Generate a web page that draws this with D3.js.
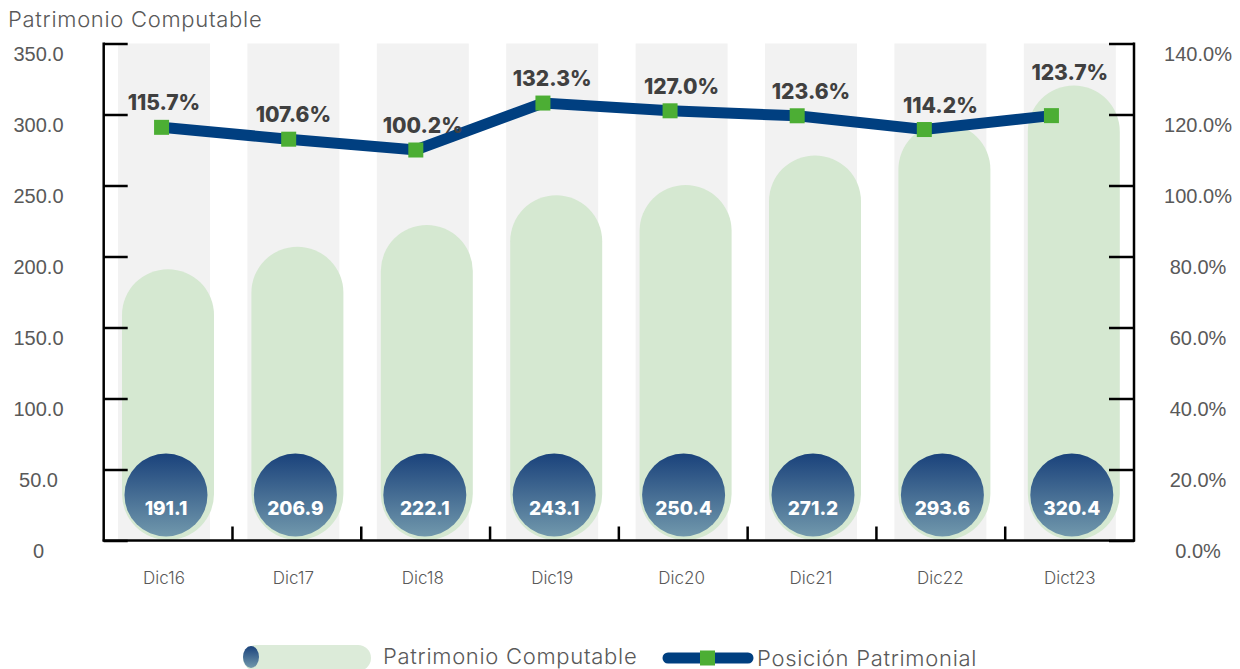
<!DOCTYPE html>
<html>
<head>
<meta charset="utf-8">
<script src="https://cdn.jsdelivr.net/npm/d3@7"></script>
<style>
  body { margin: 0; background: #fff; }
  svg { display: block; font-family: Inter, "Noto Sans", sans-serif; }
  .lbl { fill: #595959; font-weight: 300; }
  .val { fill: #404040; font-weight: 800; }
  .inner { fill: #fff; font-weight: 800; }
</style>
</head>
<body>
<div id="vis"></div>
<script>
// chart data
var categories = ["Dic16", "Dic17", "Dic18", "Dic19", "Dic20", "Dic21", "Dic22", "Dict23"];
var patrimonio = [191.1, 206.9, 222.1, 243.1, 250.4, 271.2, 293.6, 320.4];
var posicion = [115.7, 107.6, 100.2, 132.3, 127.0, 123.6, 114.2, 123.7];
var leftTicks = [0, 50, 100, 150, 200, 250, 300, 350];
var rightTicks = [0, 20, 40, 60, 80, 100, 120, 140];

var w = 1240, h = 669,
    plotTop = 43.5, plotBottom = 540.5,
    plotLeft = 103.7, plotRight = 1134;

var svg = d3.select("#vis").append("svg")
    .attr("width", w)
    .attr("height", h);

var defs = svg.append("defs");
var grad = defs.append("linearGradient")
    .attr("id", "ball")
    .attr("x1", 0).attr("y1", 0).attr("x2", 0).attr("y2", 1);
grad.append("stop").attr("offset", "0%").attr("stop-color", "#1a427b");
grad.append("stop").attr("offset", "100%").attr("stop-color", "#7198ac");

// scales
var x = d3.scaleBand().domain(categories).range([99.3, 1134.5])
    .paddingInner(0.289).paddingOuter(0.1445);
var xTick = d3.scaleBand().domain(categories).range([plotLeft, plotRight]);
var xLine = d3.scaleBand().domain(categories).range([98, 1115]);
var y = d3.scaleLinear().domain([0, 350]).range([plotBottom, plotTop]);
var yR = d3.scaleLinear().domain([0, 140]).range([plotBottom, plotTop]);
// the line sits on its own (hidden) secondary scale
var yLine = d3.scaleLinear().domain([100, 135]).range([150.3, 99.1]);

var bw = x.bandwidth();

// grey background columns
svg.selectAll(".bg")
    .data(categories)
    .enter().append("rect")
    .attr("class", "bg")
    .attr("x", function(d) { return x(d); })
    .attr("y", plotTop)
    .attr("width", bw)
    .attr("height", plotBottom - plotTop)
    .attr("fill", "#f2f2f2");

// pill bars
svg.selectAll(".pill")
    .data(patrimonio)
    .enter().append("rect")
    .attr("class", "pill")
    .attr("x", function(d, i) { return x(categories[i]) + 4; })
    .attr("y", function(d) { return y(d); })
    .attr("width", bw)
    .attr("height", function(d) { return 540 - y(d); })
    .attr("rx", bw / 2)
    .attr("fill", "#d5e8d1");

// balls with values
svg.selectAll(".ball")
    .data(patrimonio)
    .enter().append("circle")
    .attr("class", "ball")
    .attr("cx", function(d, i) { return x(categories[i]) + bw / 2 + 2; })
    .attr("cy", 495)
    .attr("r", 41.5)
    .attr("fill", "url(#ball)");

svg.selectAll(".inner")
    .data(patrimonio)
    .enter().append("text")
    .attr("class", "inner")
    .attr("x", function(d, i) { return x(categories[i]) + bw / 2 + 2; })
    .attr("y", 515)
    .attr("text-anchor", "middle")
    .style("font-size", "19px")
    .text(function(d) { return d.toFixed(1); });

// axes
var yAxis = d3.axisRight(y).tickValues(leftTicks).tickSize(24).tickFormat(function(d) { return d === 0 ? "0" : d.toFixed(1); });
var gl = svg.append("g").attr("transform", "translate(" + plotLeft + ",0)").call(yAxis);
gl.select(".domain").remove();
gl.selectAll("line").attr("stroke", "#000").attr("stroke-width", 2.5);
gl.selectAll("text")
    .attr("class", "lbl")
    .attr("x", 38.5 - plotLeft)
    .attr("dy", "0.35em")
    .attr("transform", "translate(0,10)")
    .attr("text-anchor", "middle")
    .style("font-size", "20px")
    .attr("font-family", null)
    .attr("fill", null);

var rAxis = d3.axisLeft(yR).tickValues(rightTicks).tickSize(25).tickFormat(function(d) { return d.toFixed(1) + "%"; });
var gr = svg.append("g").attr("transform", "translate(" + plotRight + ",0)").call(rAxis);
gr.select(".domain").remove();
gr.selectAll("line").attr("stroke", "#000").attr("stroke-width", 2.5);
gr.selectAll("text")
    .attr("class", "lbl")
    .attr("x", 1198 - plotRight)
    .attr("dy", "0.35em")
    .attr("transform", "translate(0,10)")
    .attr("text-anchor", "middle")
    .style("font-size", "20px")
    .attr("font-family", null)
    .attr("fill", null);

// axis lines
svg.append("line").attr("x1", plotLeft).attr("x2", plotLeft).attr("y1", plotTop - 1).attr("y2", plotBottom + 1)
    .attr("stroke", "#000").attr("stroke-width", 2.5);
svg.append("line").attr("x1", plotRight).attr("x2", plotRight).attr("y1", plotTop - 1).attr("y2", plotBottom + 1)
    .attr("stroke", "#000").attr("stroke-width", 2.5);
svg.append("line").attr("x1", plotLeft - 1).attr("x2", plotRight + 1).attr("y1", plotBottom).attr("y2", plotBottom)
    .attr("stroke", "#000").attr("stroke-width", 2.5);

// category ticks (between categories)
svg.selectAll(".xTicks")
    .data(categories.slice(1))
    .enter().append("line")
    .attr("class", "xTicks")
    .attr("x1", function(d) { return xTick(d); })
    .attr("x2", function(d) { return xTick(d); })
    .attr("y1", plotBottom)
    .attr("y2", plotBottom - 14)
    .attr("stroke", "#000")
    .attr("stroke-width", 2.5);

svg.selectAll(".xLabel")
    .data(categories)
    .enter().append("text")
    .attr("class", "lbl")
    .attr("x", function(d) { return x(d) + bw / 2; })
    .attr("y", 584)
    .attr("text-anchor", "middle")
    .style("font-size", "17px")
    .text(String);

// line series
var line = d3.line()
    .x(function(d, i) { return xLine(categories[i]) + xLine.bandwidth() / 2; })
    .y(function(d) { return yLine(d); });

svg.append("path")
    .datum(posicion)
    .attr("d", line)
    .attr("fill", "none")
    .attr("stroke", "#003f80")
    .attr("stroke-width", 11);

svg.selectAll(".mark")
    .data(posicion)
    .enter().append("rect")
    .attr("class", "mark")
    .attr("x", function(d, i) { return xLine(categories[i]) + xLine.bandwidth() / 2 - 7.5; })
    .attr("y", function(d) { return yLine(d) - 7.5; })
    .attr("width", 15)
    .attr("height", 15)
    .attr("fill", "#4cae34");

// labels sit above the marker, and above the pill when it is higher
svg.selectAll(".val")
    .data(posicion)
    .enter().append("text")
    .attr("class", "val")
    .attr("x", function(d, i) { return x(categories[i]) + bw / 2; })
    .attr("y", function(d, i) { return Math.min(yLine(d) - 17, y(patrimonio[i]) - 6); })
    .attr("text-anchor", "middle")
    .style("font-size", "21px")
    .text(function(d) { return d.toFixed(1) + "%"; });

// title
svg.append("text")
    .attr("class", "lbl")
    .attr("x", 8)
    .attr("y", 27)
    .style("font-size", "22px")
    .style("letter-spacing", "0.7px")
    .text("Patrimonio Computable");

// legend
var lg = svg.append("g");
lg.append("rect").attr("x", 243).attr("y", 645).attr("width", 128).attr("height", 26).attr("rx", 13)
    .attr("fill", "#dcebd9");
lg.append("ellipse").attr("cx", 251).attr("cy", 657).attr("rx", 8).attr("ry", 11)
    .attr("fill", "url(#ball)");
lg.append("text").attr("class", "lbl").attr("x", 383).attr("y", 664)
    .style("font-size", "22px").style("letter-spacing", "0.7px").text("Patrimonio Computable");
lg.append("line").attr("x1", 668).attr("x2", 748).attr("y1", 658).attr("y2", 658)
    .attr("stroke", "#003f80").attr("stroke-width", 11).attr("stroke-linecap", "round");
lg.append("rect").attr("x", 700).attr("y", 650.5).attr("width", 15).attr("height", 15)
    .attr("fill", "#4cae34");
lg.append("text").attr("class", "lbl").attr("x", 757).attr("y", 666)
    .style("font-size", "22px").style("letter-spacing", "0.7px").text("Posición Patrimonial");
</script>
</body>
</html>
